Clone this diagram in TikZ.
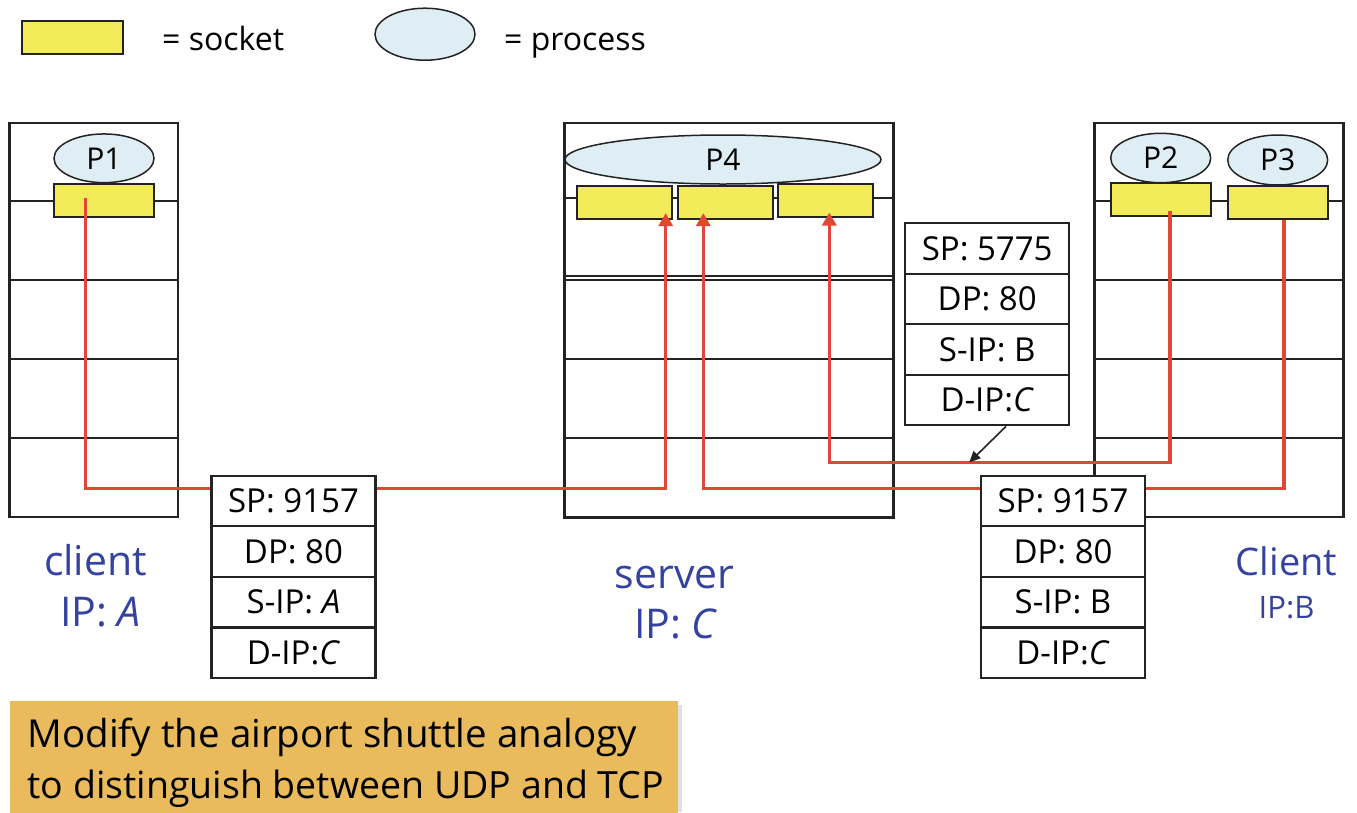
\documentclass[tikz,border=0pt]{standalone}
\usepackage{fontspec}
\setmainfont{Open Sans}
\usetikzlibrary{arrows.meta,shapes.geometric,calc}
\definecolor{sockY}{RGB}{243,236,90}
\definecolor{procB}{RGB}{222,238,244}
\definecolor{redL}{RGB}{222,72,52}
\definecolor{lblue}{RGB}{52,66,160}
\definecolor{noteO}{RGB}{233,187,92}
\definecolor{edge}{RGB}{35,35,35}
\newcommand{\fs}[1]{\fontsize{#1}{#1}\selectfont}
\begin{document}
\begin{tikzpicture}[x=1pt,y=-1pt,
  hostbox/.style={draw=edge, line width=2.4pt},
  hline/.style={draw=edge, line width=2pt},
  sock/.style={draw=edge, fill=sockY, line width=1.8pt, minimum height=32.7pt, inner sep=0pt},
  proc/.style={ellipse, draw=edge, fill=procB, line width=1.5pt, inner sep=0pt, font=\fs{30}},
  pkt/.style={draw=edge, line width=2.2pt, fill=white, minimum width=164pt, minimum height=50.6pt, inner sep=0pt, font=\fs{33}},
  flow/.style={draw=redL, line width=3.5pt},
  flowarr/.style={flow, -{Triangle[length=13pt,width=14pt]}},
  lbl/.style={text=lblue, anchor=base, inner sep=0pt},
  legendtxt/.style={anchor=base west, inner sep=0pt, font=\fs{32}}
]
\useasboundingbox (0,0) rectangle (1357,812);

% legend
\node[sock, minimum width=101pt, minimum height=33.3pt] (legsock) at (72.2,37.3) {};
\node[legendtxt] (legsocktxt) at (162,50.7) {= socket};
\node[proc, minimum width=100pt, minimum height=52pt] (legproc) at (425,34.2) {};
\node[legendtxt] (legproctxt) at (504,50.2) {= process};

% host A
\draw[hostbox] (9.3,122.7) rectangle (178,516.7);
\draw[hline] (9.3,200.7) -- (178,200.7);
\draw[hline] (9.3,280) -- (178,280);
\draw[hline, line width=1.6pt] (9.3,359) -- (178,359);
\draw[hline] (9.3,438.3) -- (178,438.3);

% server C
\draw[hostbox] (564.3,122.7) rectangle (893.3,517.3);
\draw[hline] (564.3,198) -- (893.3,198);
\draw[hline] (564.3,275.7) -- (893.3,275.7);
\draw[hline] (564.3,280) -- (893.3,280);
\draw[hline, line width=1.6pt] (564.3,359) -- (893.3,359);
\draw[hline] (564.3,438.3) -- (893.3,438.3);

% host B
\draw[hostbox] (1094.3,122.7) rectangle (1343.3,516.7);
\draw[hline] (1094.3,200.7) -- (1343.3,200.7);
\draw[hline] (1094.3,280) -- (1343.3,280);
\draw[hline, line width=1.6pt] (1094.3,359) -- (1343.3,359);
\draw[hline] (1094.3,438.3) -- (1343.3,438.3);

% sockets
\node[sock, minimum width=100pt] (sA) at (104,200.3) {};
\node[sock, minimum width=95.6pt] (sC1) at (624.5,202.3) {};
\node[sock, minimum width=95pt] (sC2) at (725.8,202.3) {};
\node[sock, minimum width=95.6pt] (sC3) at (825.5,200.3) {};
\node[sock, minimum width=100pt] (sB1) at (1160.7,199.7) {};
\node[sock, minimum width=100pt] (sB2) at (1277.7,202.3) {};

% processes
\node[proc, minimum width=100pt, minimum height=48.7pt] (P1) at (104,158.3) {P1};
\node[proc, minimum width=316pt, minimum height=49pt] (P4) at (723,159.5) {P4};
\node[proc, minimum width=100pt, minimum height=49.4pt] (P2) at (1160.7,158) {P2};
\node[proc, minimum width=100pt, minimum height=50pt] (P3) at (1277.7,160) {P3};

% routing levels
\coordinate (lvlA) at (0,488.3);
\coordinate (lvlB) at (0,462.3);

% red flows
\coordinate (fA) at ($(sA.center)+(-18.3,-2.3)$);
\coordinate (tC1) at ($(sC1.south)+(41.2,-6.5)$);
\draw[flowarr] (fA) -- (fA |- lvlA) -| (tC1);

\coordinate (fB2) at ($(sB2.south)+(6.3,0)$);
\coordinate (tC2) at ($(sC2.south)+(-22.5,-6.5)$);
\draw[flowarr] (fB2) -- (fB2 |- lvlA) -| (tC2);

\coordinate (fB1) at ($(sB1.center)+(9.3,11.3)$);
\coordinate (tC3) at ($(sC3.south)+(3.8,-5)$);
\draw[flowarr] (fB1) -- (fB1 |- lvlB) -| (tC3);

% packet A->C
\node[pkt] (pa1) at (293.5,501) {SP: 9157};
\node[pkt] (pa2) at (293.5,551.6) {DP: 80};
\node[pkt] (pa3) at (293.5,602.2) {S-IP: \textit{A}};
\node[pkt] (pa4) at (293.5,652.8) {D-IP:\textit{C}};

% packet B(P3)->C
\node[pkt] (pb1) at (1063,501) {SP: 9157};
\node[pkt] (pb2) at (1063,551.6) {DP: 80};
\node[pkt] (pb3) at (1063,602.2) {S-IP: B};
\node[pkt] (pb4) at (1063,652.8) {D-IP:\textit{C}};

% packet B(P2)->C
\node[pkt] (pc1) at (987.2,248.5) {SP: 5775};
\node[pkt] (pc2) at (987.2,299) {DP: 80};
\node[pkt] (pc3) at (987.2,349.5) {S-IP: B};
\node[pkt] (pc4) at (987.2,400) {D-IP:\textit{C}};

% pointer from packet to flow
\coordinate (hit) at (969.3,462.3);
\draw[draw=edge, line width=1.6pt, -{Triangle[length=11pt,width=10pt]}] ($(pc4.south)+(18.8,0)$) -- (hit);

% host labels
\node[lbl, font=\fs{41}] (labA1) at (95.5,575) {client};
\node[lbl, font=\fs{41}] (labA2) at (100.5,626) {IP: \textit{A}};
\node[lbl, font=\fs{41}] (labC1) at (674.5,588.3) {server};
\node[lbl, font=\fs{41}] (labC2) at (676,638.3) {IP: \textit{C}};
\node[lbl, font=\fs{38}] (labB1) at (1286.5,575) {Client};
\node[lbl, font=\fs{31}] (labB2) at (1286.5,618.3) {IP:B};

% note
\fill[black!12] (13,705) rectangle (682,812);
\node[fill=noteO, minimum width=668pt, minimum height=115pt, inner sep=0pt, anchor=north west] (note) at (9.3,701) {};
\node[anchor=base west, inner sep=0pt, font=\fs{38.5}] (note1) at (27.3,747.7) {Modify the airport shuttle analogy};
\node[anchor=base west, inner sep=0pt, font=\fs{37.5}] (note2) at (27.3,798) {to distinguish between UDP and TCP};
\end{tikzpicture}
\end{document}
